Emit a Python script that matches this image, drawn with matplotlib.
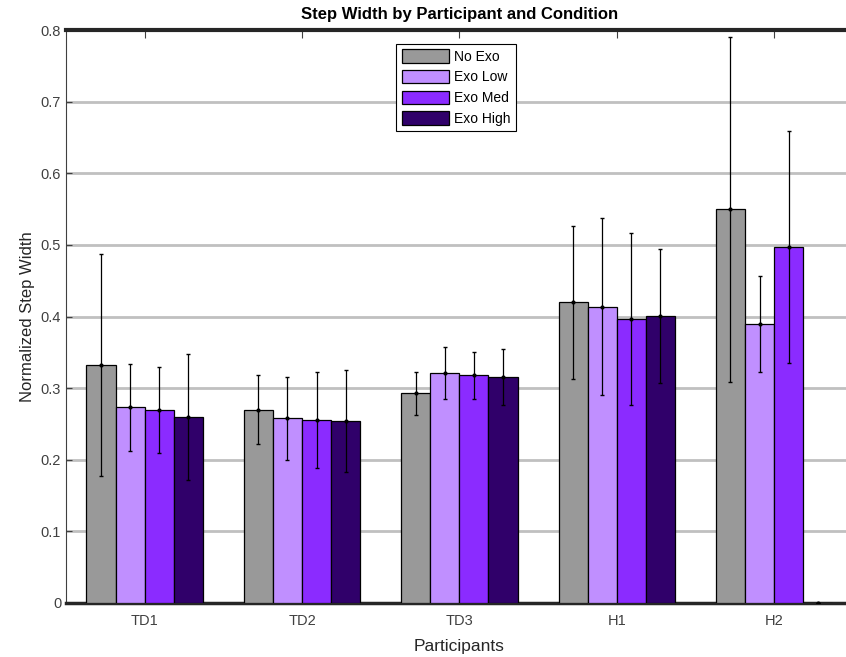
import numpy as np
import matplotlib.pyplot as plt

plt.rcParams['font.family'] = ['Liberation Sans', 'DejaVu Sans']

# 数据
participants = ['TD1', 'TD2', 'TD3', 'H1', 'H2']
conditions = ['No Exo', 'Exo Low', 'Exo Med', 'Exo High']
no_exo = [0.332, 0.270, 0.293, 0.420, 0.550]
exo_low = [0.273, 0.258, 0.321, 0.414, 0.390]
exo_med = [0.270, 0.256, 0.318, 0.397, 0.497]
exo_high = [0.260, 0.254, 0.315, 0.401, 0.0]
no_exo_err = [0.155, 0.048, 0.030, 0.107, 0.241]
exo_low_err = [0.061, 0.058, 0.036, 0.123, 0.067]
exo_med_err = [0.060, 0.067, 0.033, 0.120, 0.162]
exo_high_err = [0.088, 0.071, 0.039, 0.094, 0.0]
colors = ['#999999', '#c08fff', '#8b2bff', '#30006a']

means = [no_exo, exo_low, exo_med, exo_high]
errs = [no_exo_err, exo_low_err, exo_med_err, exo_high_err]

fig = plt.figure(figsize=(8.46, 6.57), dpi=100)
ax = fig.add_axes([0.078, 0.0822, 0.930, 0.872])

x = np.arange(1, len(participants) + 1)
w = 0.185
for i in range(4):
    pos = x + (i - 1.5) * w
    ax.bar(pos, means[i], width=w, color=colors[i], edgecolor='black',
           linewidth=0.9, label=conditions[i], zorder=3)
    ax.errorbar(pos, means[i], yerr=errs[i], fmt='.', color='black',
                ecolor='black', elinewidth=0.9, capsize=1.2, markersize=4,
                zorder=4)

ax.set_xlim(0.5, 5.5)
ax.set_ylim(0, 0.8)
ax.set_yticks(np.arange(0, 0.81, 0.1))
ax.set_yticklabels(['0', '0.1', '0.2', '0.3', '0.4', '0.5', '0.6', '0.7', '0.8'])
ax.set_xticks(x)
ax.set_xticklabels(participants)
ax.yaxis.grid(True, color='#c0c0c0', linewidth=2, zorder=0)
ax.set_axisbelow(True)

ax.tick_params(axis='x', direction='in', top=True, length=6, labelsize=10.5,
               colors='#404040', pad=8)
ax.tick_params(axis='y', direction='in', length=4, labelsize=10.5,
               colors='#404040')
for t in ax.xaxis.get_major_ticks():
    t.tick1line.set_visible(False)

ax.spines['top'].set_linewidth(3)
ax.spines['top'].set_color('#262626')
ax.spines['bottom'].set_linewidth(2.5)
ax.spines['bottom'].set_color('#262626')
ax.spines['left'].set_color('#404040')
ax.spines['right'].set_visible(False)

ax.set_title('Step Width by Participant and Condition', fontsize=12,
             fontweight='bold', pad=8)
ax.set_xlabel('Participants', fontsize=12.5, color='#262626', labelpad=8)
ax.set_ylabel('Normalized Step Width', fontsize=12, color='#262626')

leg = ax.legend(loc='upper left', bbox_to_anchor=(0.411, 0.988), fontsize=10,
                frameon=True, fancybox=False, edgecolor='black',
                handlelength=3.4, handleheight=1.1, labelspacing=0.45,
                borderpad=0.4, handletextpad=0.35, framealpha=1)
leg.get_frame().set_linewidth(0.8)

plt.savefig('out.png', dpi=100)
